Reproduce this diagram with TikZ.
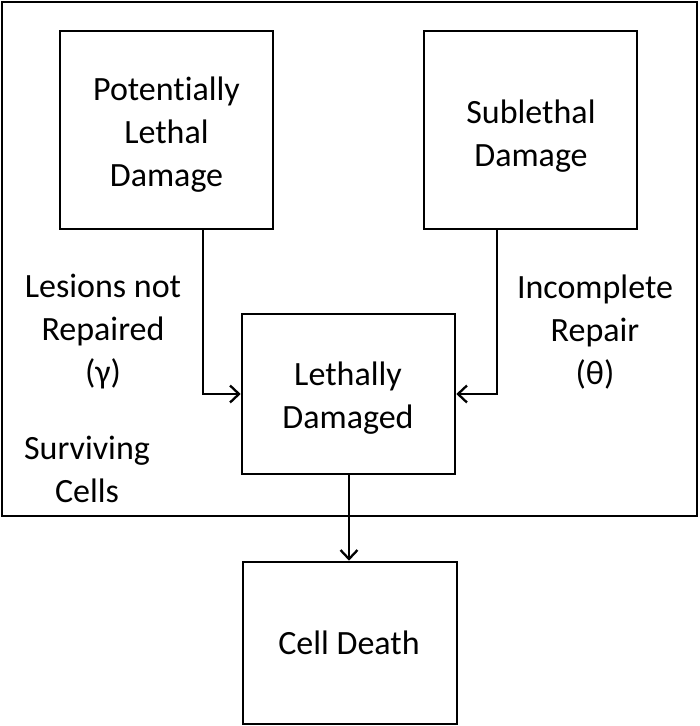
\documentclass[tikz,border=0pt]{standalone}
\usepackage{fontspec}
\setmainfont{Carlito}[Ligatures=NoCommon]
\usetikzlibrary{arrows.meta}
\begin{document}
\begin{tikzpicture}[x=1pt,y=-1pt,
  box/.style={draw, line width=2.6pt, inner sep=0pt},
  lbl/.style={align=center, inner sep=0pt, font=\fontsize{34}{43}\selectfont},
  conn/.style={line width=2.3pt, -{Straight Barb[length=9pt,width=17pt,line width=2.3pt]}}]
\useasboundingbox (0,0) rectangle (700,726);
\draw[line width=2.6pt] (2,2) rectangle (697,516);
\node[box, minimum width=213pt, minimum height=198pt] (pld) at (166.5,130) {};
\node[box, minimum width=213pt, minimum height=198pt] (sd) at (530.5,130) {};
\node[box, minimum width=213pt, minimum height=160pt] (ld) at (348.5,394) {};
\node[box, minimum width=214pt, minimum height=162pt] (cd) at (350,643) {};
\node[lbl] (tpld) at (166.5,135) {Potentially\\Lethal\\Damage};
\node[lbl] (tsd) at (531,136) {Sublethal\\Damage};
\node[lbl] (tld) at (348,398) {Lethally\\Damaged};
\node[lbl] (tcd) at (349,643) {Cell Death};
\node[lbl] (tles) at (103,332) {Lesions not\\Repaired\\(γ)};
\node[lbl] (tinc) at (595,332) {Incomplete\\Repair\\(θ)};
\node[lbl] (tsur) at (87,469) {Surviving\\Cells};
\coordinate (pb) at (203,229);
\coordinate (sb) at (497,229);
\draw[conn] (pb) |- (ld.west |- 0,394);
\draw[conn] (sb) |- (ld.east |- 0,394);
\draw[conn] (ld.south -| 349,0) -- (cd.north -| 349,0);
\end{tikzpicture}
\end{document}
